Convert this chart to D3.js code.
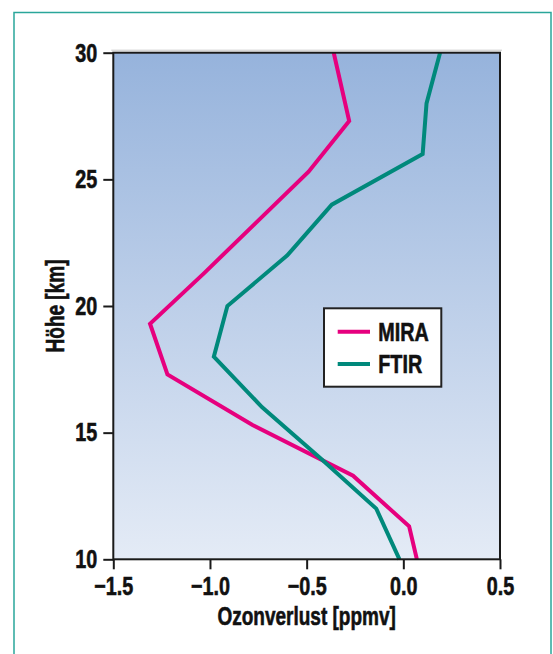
<!DOCTYPE html>
<html>
<head>
<meta charset="utf-8">
<script src="https://cdn.jsdelivr.net/npm/d3@7"></script>
<style>
  body { margin: 0; background: #fff; }
  text { font-family: "Liberation Sans", Arial, sans-serif; font-weight: bold; }
</style>
</head>
<body>
<div id="chart"></div>
<script>
// altitude profiles (km) and ozone loss (ppmv)
const miraAlt  = [30, 27.3, 25.3, 23.3, 21.3, 19.3, 17.3, 15.3, 13.3, 11.3, 10];
const miraLoss = [-0.36, -0.28, -0.49, -0.76, -1.03, -1.31, -1.22, -0.78, -0.26, 0.03, 0.07];
const ftirAlt  = [30, 28, 26, 24, 22, 20, 18, 16, 14, 12, 10];
const ftirLoss = [0.19, 0.12, 0.10, -0.37, -0.60, -0.91, -0.98, -0.73, -0.43, -0.14, -0.02];
const seriesNames = ["MIRA", "FTIR"];
const xTicks = [-1.5, -1.0, -0.5, 0.0, 0.5];
const yTicks = [10, 15, 20, 25, 30];

async function draw() {

  //*************************1. Set up Measurement
  let dimensions = {
    width: 553,
    height: 654,
    margin: { top: 52.7, right: 53, bottom: 94.7, left: 113.3 }
  }
  dimensions.boundedWidth = dimensions.width - dimensions.margin.left - dimensions.margin.right
  dimensions.boundedHeight = dimensions.height - dimensions.margin.top - dimensions.margin.bottom

  //*************************2. Draw Canvas
  const wrapper = d3.select("#chart")
    .append("svg")
    .attr("width", dimensions.width)
    .attr("height", dimensions.height)

  // teal outer frame (runs off the bottom)
  wrapper.append("rect")
    .attr("x", 14).attr("y", 12.5)
    .attr("width", 537).attr("height", 700)
    .attr("fill", "none")
    .attr("stroke", "#2aa69a")
    .attr("stroke-width", 1.5)

  const defs = wrapper.append("defs")
  const grad = defs.append("linearGradient")
    .attr("id", "bg").attr("x1", 0).attr("y1", 0).attr("x2", 0).attr("y2", 1)
  grad.append("stop").attr("offset", "0%").attr("stop-color", "#96b3dc")
  grad.append("stop").attr("offset", "100%").attr("stop-color", "#e4ebf6")

  const bounds = wrapper.append("g")
    .attr("transform", `translate(${dimensions.margin.left},${dimensions.margin.top})`)

  //**************************3. Prepare Data
  const series = [
    { name: seriesNames[0], color: "#e6007e", values: miraAlt.map((a, i) => ({ alt: a, loss: miraLoss[i] })) },
    { name: seriesNames[1], color: "#00897b", values: ftirAlt.map((a, i) => ({ alt: a, loss: ftirLoss[i] })) }
  ]
  const xAccessor = d => d.loss
  const yAccessor = d => d.alt

  //**************************4. Create Scales
  const xScale = d3.scaleLinear()
    .domain([-1.5, 0.5])
    .range([0, dimensions.boundedWidth])

  const yScale = d3.scaleLinear()
    .domain([10, 30])
    .range([dimensions.boundedHeight, 0])

  //**************************5. Plot background
  bounds.append("line")
    .attr("x1", -2).attr("x2", dimensions.boundedWidth + 2)
    .attr("y1", -2.5).attr("y2", -2.5)
    .attr("stroke", "#c8c8c8").attr("stroke-width", 1)

  bounds.append("rect")
    .attr("width", dimensions.boundedWidth)
    .attr("height", dimensions.boundedHeight)
    .attr("fill", "url(#bg)")

  //**************************6. Draw Lines
  const lineGenerator = d3.line()
    .x(d => xScale(xAccessor(d)))
    .y(d => yScale(yAccessor(d)))

  bounds.selectAll(".series")
    .data(series)
    .join("path")
    .attr("class", "series")
    .attr("d", d => lineGenerator(d.values))
    .attr("fill", "none")
    .attr("stroke", d => d.color)
    .attr("stroke-width", 4)
    .attr("stroke-linejoin", "miter")

  bounds.append("rect")
    .attr("width", dimensions.boundedWidth)
    .attr("height", dimensions.boundedHeight)
    .attr("fill", "none")
    .attr("stroke", "#1a1a1a")
    .attr("stroke-width", 2)

  //**************************7. Draw Axes
  const xAxisGenerator = d3.axisBottom(xScale)
    .tickValues(xTicks)
    .tickFormat(d3.format(".1f"))
    .tickSize(10)
    .tickSizeOuter(0)
    .tickPadding(7)

  const yAxisGenerator = d3.axisLeft(yScale)
    .tickValues(yTicks)
    .tickSize(10)
    .tickSizeOuter(0)
    .tickPadding(6)

  const xAxis = bounds.append("g")
    .call(xAxisGenerator)
    .attr("transform", `translate(0,${dimensions.boundedHeight})`)

  const yAxis = bounds.append("g")
    .call(yAxisGenerator)

  for (const ax of [xAxis, yAxis]) {
    ax.select(".domain").remove()
    ax.selectAll(".tick line").attr("stroke", "#1a1a1a").attr("stroke-width", 2)
    ax.selectAll(".tick text")
      .attr("fill", "#111")
      .style("font-size", "26px")
      .style("font-family", "'Liberation Sans', Arial, sans-serif")
      .style("font-weight", "bold")
  }

  bounds.append("text")
    .attr("x", dimensions.boundedWidth / 2)
    .attr("y", dimensions.boundedHeight + 66)
    .attr("text-anchor", "middle")
    .attr("fill", "#111")
    .style("font-size", "25px")
    .text("Ozonverlust [ppmv]")

  bounds.append("text")
    .attr("transform", `translate(${64 - dimensions.margin.left},${dimensions.boundedHeight / 2}) rotate(-90)`)
    .attr("text-anchor", "middle")
    .attr("fill", "#111")
    .style("font-size", "25px")
    .text("Höhe [km]")

  //**************************8. Draw Legend
  const legend = bounds.append("g")
    .attr("transform", `translate(${324 - dimensions.margin.left},${308.3 - dimensions.margin.top})`)

  legend.append("rect")
    .attr("width", 117.3)
    .attr("height", 78.4)
    .attr("fill", "#fff")
    .attr("stroke", "#222")
    .attr("stroke-width", 2)

  const items = legend.selectAll(".item")
    .data(series)
    .join("g")
    .attr("class", "item")
    .attr("transform", (d, i) => `translate(0,${23.4 + i * 32.3})`)

  items.append("line")
    .attr("x1", 13.7).attr("x2", 46)
    .attr("stroke", d => d.color)
    .attr("stroke-width", 4)

  items.append("text")
    .attr("x", 54.3)
    .attr("y", 9)
    .attr("fill", "#111")
    .style("font-size", "26px")
    .text(d => d.name)

  // narrow the bold face, like a condensed grotesque, and thicken it a bit
  wrapper.selectAll("text").each(function () {
    const len = this.getComputedTextLength()
    d3.select(this)
      .attr("textLength", len * 0.76)
      .attr("lengthAdjust", "spacingAndGlyphs")
      .attr("stroke", "#111")
      .attr("stroke-width", 0.6)
  })

} draw()
</script>
</body>
</html>
